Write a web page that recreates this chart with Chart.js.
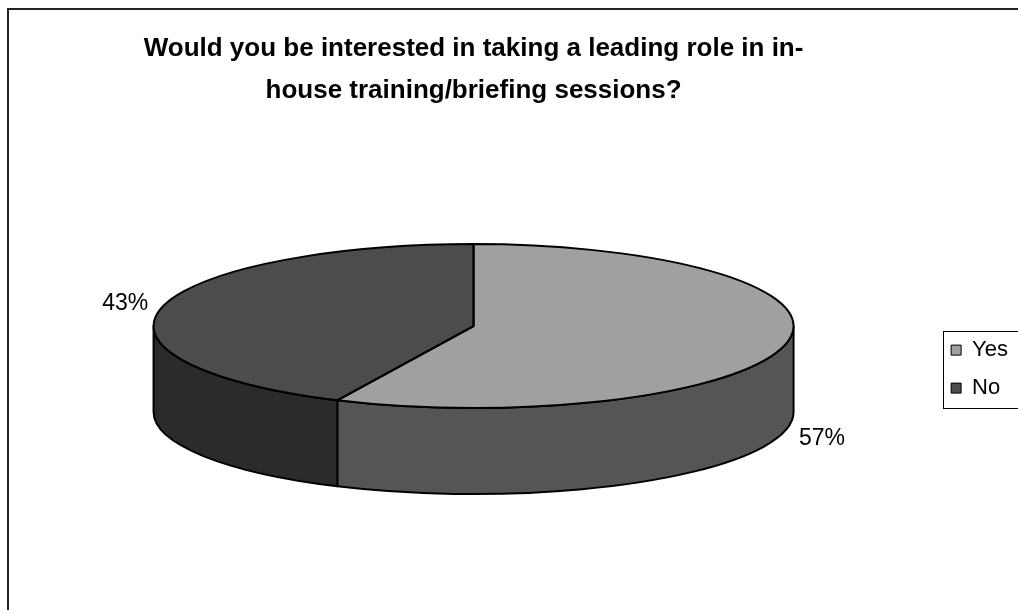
<!DOCTYPE html>
<html>
<head>
<meta charset="utf-8">
<title>Leading role in in-house training</title>
<script src="https://cdn.jsdelivr.net/npm/chart.js@4.4.1/dist/chart.umd.min.js"></script>
<style>
  body { margin: 0; background: #fff; }
  #wrap { width: 1018px; height: 610px; position: relative; }
</style>
</head>
<body>
<div id="wrap"><canvas id="chart"></canvas></div>
<script>
// survey answers
const answers = ['Yes', 'No'];
const counts = [57, 43];
const topColours = ['#a0a0a0', '#4c4c4c'];
const sideColours = ['#555555', '#2b2b2b'];

const FONT = 'Arial, "Liberation Sans", sans-serif';
const TILT = 82 / 320;   // vertical squash of the pie disc
const DEPTH = 86;        // thickness of the disc in px

// visible parts of [s, e] on the front half of the disc (0..PI, repeating)
function frontSpans(s, e) {
  const out = [];
  for (let k = -2; k <= 2; k++) {
    const a = Math.max(s, k * 2 * Math.PI);
    const b = Math.min(e, k * 2 * Math.PI + Math.PI);
    if (b > a) out.push([a, b]);
  }
  return out;
}

// the disc (top face + walls) is centred in the chart area
function discGeometry(chart) {
  const arcs = chart.getDatasetMeta(0).data;
  const rx = arcs[0].outerRadius;
  return { arcs, cx: arcs[0].x, cy: arcs[0].y - DEPTH / 2, rx, ry: rx * TILT };
}

const pie3d = {
  id: 'pie3d',
  beforeDatasetsDraw(chart) {
    const ctx = chart.ctx;
    if (!chart.getDatasetMeta(0).data.length) return;
    const { arcs, cx, cy, rx, ry } = discGeometry(chart);

    // side walls
    ctx.save();
    ctx.lineWidth = 2;
    ctx.strokeStyle = '#000';
    ctx.lineJoin = 'round';
    arcs.forEach((arc, i) => {
      frontSpans(arc.startAngle, arc.endAngle).forEach(([a, b]) => {
        ctx.beginPath();
        ctx.moveTo(cx + rx * Math.cos(a), cy + ry * Math.sin(a));
        ctx.ellipse(cx, cy, rx, ry, 0, a, b);
        ctx.lineTo(cx + rx * Math.cos(b), cy + ry * Math.sin(b) + DEPTH);
        ctx.ellipse(cx, cy + DEPTH, rx, ry, 0, b, a, true);
        ctx.closePath();
        ctx.fillStyle = sideColours[i];
        ctx.fill();
        ctx.stroke();
      });
    });
    ctx.restore();

    // squash the library's own arcs into the top face
    ctx.save();
    ctx.translate(cx, cy);
    ctx.scale(1, TILT);
    ctx.translate(-arcs[0].x, -arcs[0].y);
  },
  afterDatasetsDraw(chart) {
    const ctx = chart.ctx;
    ctx.restore();
    if (!chart.getDatasetMeta(0).data.length) return;
    const { arcs, cx, cy, rx, ry } = discGeometry(chart);
    const total = counts.reduce((s, v) => s + v, 0);

    ctx.save();
    ctx.lineWidth = 2;
    ctx.strokeStyle = '#000';
    ctx.lineJoin = 'round';
    arcs.forEach((arc) => {
      ctx.beginPath();
      ctx.moveTo(cx, cy);
      ctx.lineTo(cx + rx * Math.cos(arc.startAngle), cy + ry * Math.sin(arc.startAngle));
      ctx.ellipse(cx, cy, rx, ry, 0, arc.startAngle, arc.endAngle);
      ctx.closePath();
      ctx.stroke();
    });

    // percentage labels outside the disc
    ctx.fillStyle = '#000';
    ctx.font = '23px ' + FONT;
    ctx.textAlign = 'center';
    ctx.textBaseline = 'middle';
    arcs.forEach((arc, i) => {
      const mid = (arc.startAngle + arc.endAngle) / 2;
      const s = Math.sin(mid);
      const x = cx + (rx + 37) * Math.cos(mid);
      const y = cy + (ry + 22) * s + (s > 0 ? DEPTH + 4 : 0);
      ctx.fillText(Math.round(counts[i] / total * 100) + '%', x, y);
    });
    ctx.restore();
  },
  afterDraw(chart) {
    const ctx = chart.ctx;
    ctx.save();
    // outer frame (left and top edges)
    ctx.strokeStyle = '#222';
    ctx.lineWidth = 2;
    ctx.beginPath();
    ctx.moveTo(8, chart.height);
    ctx.lineTo(8, 9);
    ctx.lineTo(chart.width, 9);
    ctx.stroke();

    // legend frame
    const boxes = chart.legend.legendHitBoxes;
    if (boxes && boxes.length) {
      const first = boxes[0], last = boxes[boxes.length - 1];
      const top = Math.round(first.top - 8);
      const bottom = Math.round(last.top + 31);
      const left = Math.round(first.left - 8);
      ctx.strokeStyle = '#000';
      ctx.lineWidth = 1;
      ctx.strokeRect(left + 0.5, top + 0.5, chart.width + 10 - left, bottom - top);
    }
    ctx.restore();
  }
};

const defaultLabels = Chart.overrides.pie.plugins.legend.labels.generateLabels;

new Chart(document.getElementById('chart'), {
  type: 'pie',
  data: {
    labels: answers,
    datasets: [{
      data: counts,
      backgroundColor: topColours,
      borderWidth: 0,
      radius: 320,
      clip: false
    }]
  },
  options: {
    responsive: true,
    maintainAspectRatio: false,
    animation: false,
    events: [],
    layout: { padding: { left: 12, right: 0, top: 0, bottom: 0 } },
    plugins: {
      title: {
        display: true,
        fullSize: false,
        text: ['Would you be interested in taking a leading role in in-', 'house training/briefing sessions?'],
        color: '#000',
        font: { family: FONT, size: 26, weight: 'bold', lineHeight: 1.62 },
        padding: { top: 28, bottom: 16 }
      },
      legend: {
        position: 'right',
        fullSize: false,
        labels: {
          color: '#000',
          font: { family: FONT, size: 22 },
          boxWidth: 10,
          boxHeight: 10,
          padding: 16,
          generateLabels(chart) {
            return defaultLabels(chart).map(l => Object.assign(l, { strokeStyle: '#000', lineWidth: 1 }));
          }
        }
      },
      tooltip: { enabled: false }
    }
  },
  plugins: [pie3d]
});
</script>
</body>
</html>
